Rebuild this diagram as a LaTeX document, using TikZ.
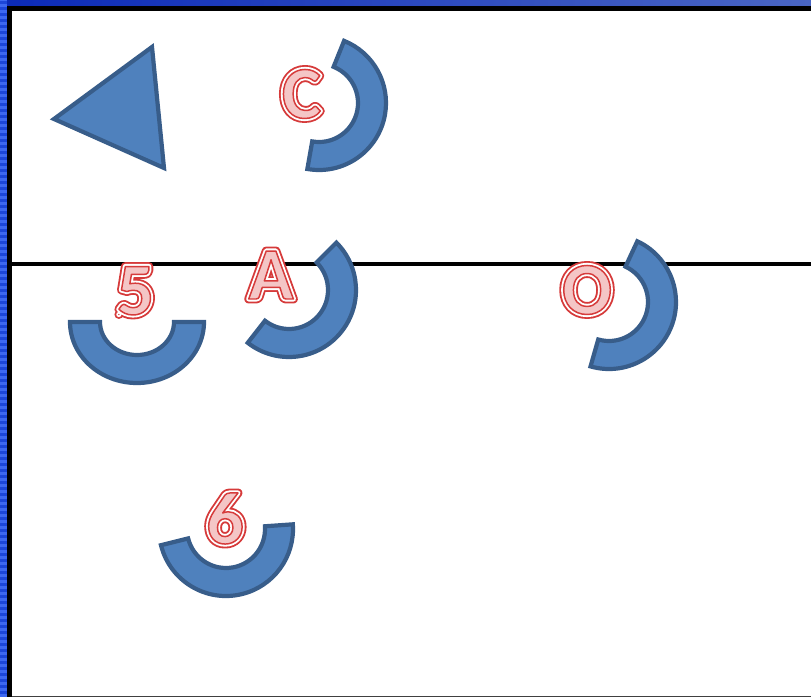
\documentclass[tikz,border=0pt]{standalone}
\usepackage{fontspec}
\setmainfont{Carlito}
\usetikzlibrary{calc}
\definecolor{shapeFill}{HTML}{4F81BD}
\definecolor{shapeLine}{HTML}{385D8A}
\definecolor{waRed}{HTML}{D63A3A}
\definecolor{waPink}{HTML}{F4C6C6}
\definecolor{bandDark}{HTML}{0B2AB8}
\definecolor{bandLight}{HTML}{4A66C4}
\definecolor{stripeA}{HTML}{1C46D8}
\definecolor{stripeB}{HTML}{3D68F0}
\newcommand{\rj}{\special{pdf:literal direct 1 j 1 J}}
\newcommand{\wordart}[1]{%
  \rlap{\addfontfeature{FakeBold=12}\color{waRed}\rj#1}%
  \rlap{\addfontfeature{FakeBold=7}\color{white}\rj#1}%
  {\addfontfeature{FakeBold=2}\color{waPink}\special{pdf:literal direct 0.84 0.23 0.23 RG}\rj#1}}
\newcommand{\blockarc}[3]{%
  \draw[blockshape] ($(#1)+(#2:67)$) arc[start angle=#2, end angle=#3, radius=67]
    -- ($(#1)+(#3:39)$) arc[start angle=#3, end angle=#2, radius=39] -- cycle;}
\tikzset{
  blockshape/.style={fill=shapeFill, draw=shapeLine, line width=4.2pt},
  letter/.style={inner sep=0pt, anchor=base,
    font=\fontsize{74}{74}\selectfont\bfseries},
  divider/.style={draw=black, line width=3.5pt},
}
\begin{document}
\begin{tikzpicture}[x=1pt,y=1pt]
\useasboundingbox (0,0) rectangle (811,697);
\fill[white] (0,0) rectangle (811,697);
% top band
\shade[left color=bandDark, right color=bandLight] (0,691) rectangle (811,697);
% left band
\fill[stripeA] (0,0) rectangle (7,697);
\foreach \k in {0,...,116} \fill[stripeB] (0,{\k*6}) rectangle (7,{\k*6+3});
% frame
\fill[black] (7,686) rectangle (811,691);
\fill[black] (7,0) rectangle (12,691);
\fill[black!75] (12,0) rectangle (811,1.5);
% divider
\coordinate (divL) at (12,433);
\coordinate (divR) at (811,433);
\draw[divider] (divL) -- (divR);
% triangle
\draw[blockshape] (54,578) -- (152,650) -- (164,529) -- cycle;
% block arcs
\coordinate (cC) at (319,594);
\coordinate (c5) at (137,375);
\coordinate (cA) at (289,407);
\coordinate (cO) at (609,395);
\coordinate (c6) at (226,168);
\blockarc{cC}{-100}{68}
\draw[blockshape] ($(c5)+(-67,0)$) arc[start angle=180, end angle=360, x radius=67, y radius=61]
  -- ($(c5)+(37,0)$) arc[start angle=360, end angle=180, x radius=37, y radius=33] -- cycle;
\blockarc{cA}{-128}{45}
\blockarc{cO}{-106}{65}
\blockarc{c6}{-166}{4}
% letters
\node[letter] (lC) at (301.5,579) {\wordart{C}};
\node[letter] (lA) at (271,398) {\wordart{A}};
\node[letter] (l5) at (135.5,382.5) {\wordart{5}};
\node[letter] (lO) at (587,383) {\wordart{O}};
\node[letter] (l6) at (225,153.5) {\wordart{6}};
\end{tikzpicture}
\end{document}
